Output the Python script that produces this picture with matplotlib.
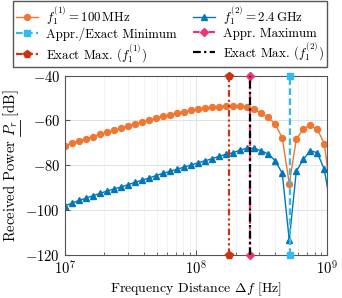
import numpy as np
import matplotlib
matplotlib.use("Agg")
import matplotlib.pyplot as plt
from matplotlib.lines import Line2D

plt.rcParams['font.family'] = 'serif'
plt.rcParams['font.serif'] = ['cmr10', 'DejaVu Serif']
plt.rcParams['mathtext.fontset'] = 'cm'
plt.rcParams['axes.formatter.use_mathtext'] = True
plt.rcParams['axes.unicode_minus'] = True

# sample grid (log-spaced)
freq = np.logspace(7, 7 + 38 * 0.05344, 39)

p_100mhz = [-71.3, -70.1, -69.0, -68.2, -67.3, -66.2, -65.3, -64.4, -63.5, -62.5,
            -61.6, -60.8, -59.9, -59.1, -58.2, -57.4, -56.7, -56.1, -55.5, -55.0,
            -54.4, -54.1, -53.8, -53.5, -53.4, -53.5, -54.1, -55.0, -56.8, -58.6,
            -61.7, -67.7, -88.3, -68.5, -63.7, -62.2, -64.0, -70.3, -95.0]
p_2g4 = [-98.2, -96.9, -95.7, -94.7, -93.6, -92.6, -91.5, -90.6, -89.7, -88.7,
         -87.6, -86.7, -85.7, -84.6, -83.6, -82.7, -81.8, -80.8, -79.9, -78.9,
         -78.0, -77.1, -76.0, -75.1, -74.4, -73.2, -72.4, -72.5, -73.5, -75.0,
         -78.0, -83.6, -113.5, -82.7, -77.4, -73.5, -74.4, -81.9, -100.0]

f_min = 5.155e8          # appr./exact minimum
f_max_appr = 2.553e8     # appr. maximum
f_max1 = 1.777e8         # exact max, f1 = 100 MHz
f_max2 = 2.553e8         # exact max, f1 = 2.4 GHz
ylim = [-120, -40]

c_orange = '#EE7733'
c_blue = '#0077BB'
c_cyan = '#33BBEE'
c_pink = '#EE3377'
c_red = '#CC3311'

fig = plt.figure(figsize=(3.42, 2.98), dpi=100)
ax = fig.add_axes([0.190, 0.145, 0.767, 0.601])

h1, = ax.plot(freq, p_100mhz, '-o', color=c_orange, lw=1.0, ms=4.3,
              label=r'$f_1^{(1)} = 100\,\mathrm{MHz}$')
h2, = ax.plot(freq, p_2g4, '-^', color=c_blue, lw=1.0, ms=4.3,
              label=r'$f_1^{(2)} = 2.4\,\mathrm{GHz}$')
h3, = ax.plot([f_min, f_min], ylim, color=c_cyan, ls=(0, (3, 1.5)), lw=1.6,
              marker='s', ms=5, clip_on=False, zorder=3, label='Appr./Exact Minimum')
h5, = ax.plot([f_max1, f_max1], ylim, color=c_red, ls=(0, (3, 1.3, 1, 1.3, 1, 1.3)),
              lw=1.6, marker='p', ms=5.5, clip_on=False, zorder=3,
              label=r'Exact Max. ($f_1^{(1)}$)')
h4, = ax.plot([f_max_appr, f_max_appr], ylim, color=c_pink, ls=(0, (3, 1.5, 1, 1.5)),
              lw=1.6, marker='D', ms=4, clip_on=False, zorder=3, label='Appr. Maximum')
h6, = ax.plot([f_max2, f_max2], ylim, color='black', ls=(0, (3.5, 1.5, 1, 1.5)),
              lw=1.6, zorder=4, label=r'Exact Max. ($f_1^{(2)}$)')

ax.set_xscale('log')
ax.set_xlim(1e7, 1e9)
ax.set_ylim(ylim)
ax.set_yticks([-120, -100, -80, -60, -40])
ax.grid(True, which='major', color='#dddddd', lw=0.6)
ax.grid(True, which='minor', axis='x', color='#eeeeee', lw=0.5)
ax.set_axisbelow(True)
ax.tick_params(which='both', direction='in', labelsize=10.5, color='#555555')
for s in ax.spines.values():
    s.set_color('#555555')

ax.set_xlabel(r'Frequency Distance $\Delta f$ [Hz]', fontsize=10, labelpad=2)
ylab = ax.set_ylabel(r'Received Power $P_r$ [dB]', fontsize=10.5, labelpad=3)

fig.legend(handles=[h1, h3, h5, h2, h4, h6], ncol=2, loc='upper left',
           bbox_to_anchor=(0.038, 0.996, 0.918, 0), mode='expand',
           fontsize=9.3, frameon=True, fancybox=False, edgecolor='#555555',
           framealpha=1, handlelength=1.7, handletextpad=0.6, borderpad=0.25,
           labelspacing=0.05, columnspacing=1.0, borderaxespad=0)

# underline P_r in the y label (mathtext has no \underline)
fig.canvas.draw()
r = fig.canvas.get_renderer()
ext = ylab.get_window_extent(r)
def _w(s):
    t = fig.text(0, 0, s, fontsize=10.5)
    w = t.get_window_extent(r).width
    t.remove()
    return w
w_pre = _w('Received Power ')
w_p = _w(r'$P_r$')
W, H = fig.bbox.width, fig.bbox.height
ux = ext.x1 - 1.0
fig.add_artist(Line2D([ux / W, ux / W],
                      [(ext.y0 + w_pre) / H, (ext.y0 + w_pre + w_p) / H],
                      color='black', lw=0.6))

fig.savefig('out.png', dpi=100)
